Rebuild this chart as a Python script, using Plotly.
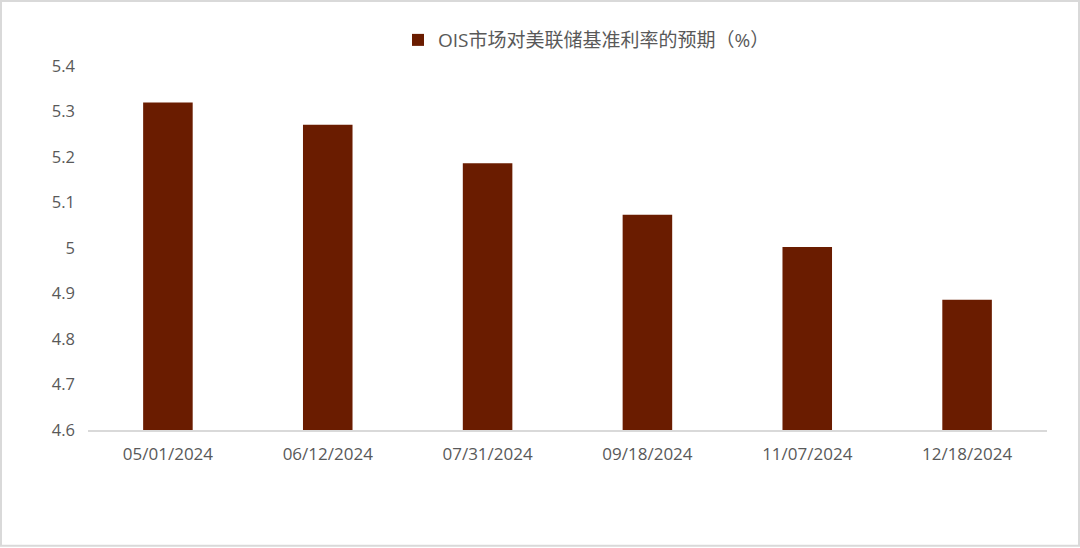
import plotly.graph_objects as go

categories = ["05/01/2024", "06/12/2024", "07/31/2024", "09/18/2024", "11/07/2024", "12/18/2024"]
values = [5.320, 5.271, 5.186, 5.073, 5.002, 4.886]
series_name = "OIS市场对美联储基准利率的预期（%）"
y_tick_vals = [4.6, 4.7, 4.8, 4.9, 5.0, 5.1, 5.2, 5.3, 5.4]
y_tick_text = ["4.6", "4.7", "4.8", "4.9", "5", "5.1", "5.2", "5.3", "5.4"]

BAR = "#6A1C00"
TXT = "#595959"
AX = "#D9D9D9"
FONT = "Open Sans, Noto Sans CJK SC, sans-serif"

fig = go.Figure()
fig.add_trace(go.Bar(
    x=categories, y=values, name=series_name,
    marker=dict(color=BAR, line=dict(width=0)),
    width=0.31, showlegend=True,
))

W, H = 1080, 548
L, R, T, B = 88, 33, 66, 117.5
pw = W - L - R
ph = H - T - B

def px_x(x):
    return (x - L) / pw

def px_y(y):
    return (H - B - y) / ph

fig.update_layout(
    width=W, height=H,
    margin=dict(l=L, r=R, t=T, b=B, pad=0),
    paper_bgcolor="white", plot_bgcolor="white",
    font=dict(family=FONT, color=TXT, size=16),
    showlegend=True,
    legend=dict(
        orientation="h", x=px_x(398), xanchor="left",
        y=px_y(40), yanchor="middle",
        font=dict(size=19, color=TXT, family=FONT),
        bgcolor="rgba(0,0,0,0)",
    ),
    xaxis=dict(
        showgrid=False, showline=True, linecolor=AX, linewidth=1.5,
        ticks="", tickfont=dict(size=17, color=TXT),
        ticklabelstandoff=8, zeroline=False,
    ),
    yaxis=dict(
        range=[4.6, 5.4], tickvals=y_tick_vals, ticktext=y_tick_text,
        showgrid=False, showline=False, zeroline=False, ticks="",
        tickfont=dict(size=16.5, color=TXT), ticklabelstandoff=12,
    ),
    shapes=[dict(
        type="rect", xref="paper", yref="paper",
        x0=px_x(1), x1=px_x(1079), y0=px_y(546.5), y1=px_y(1),
        line=dict(color=AX, width=2), fillcolor="rgba(0,0,0,0)", layer="below",
    )],
)

fig.write_html(
    "out.html",
    config={"displayModeBar": False},
    post_script="document.body.style.margin='0px';document.body.style.padding='0px';document.body.style.overflow='hidden';",
)
